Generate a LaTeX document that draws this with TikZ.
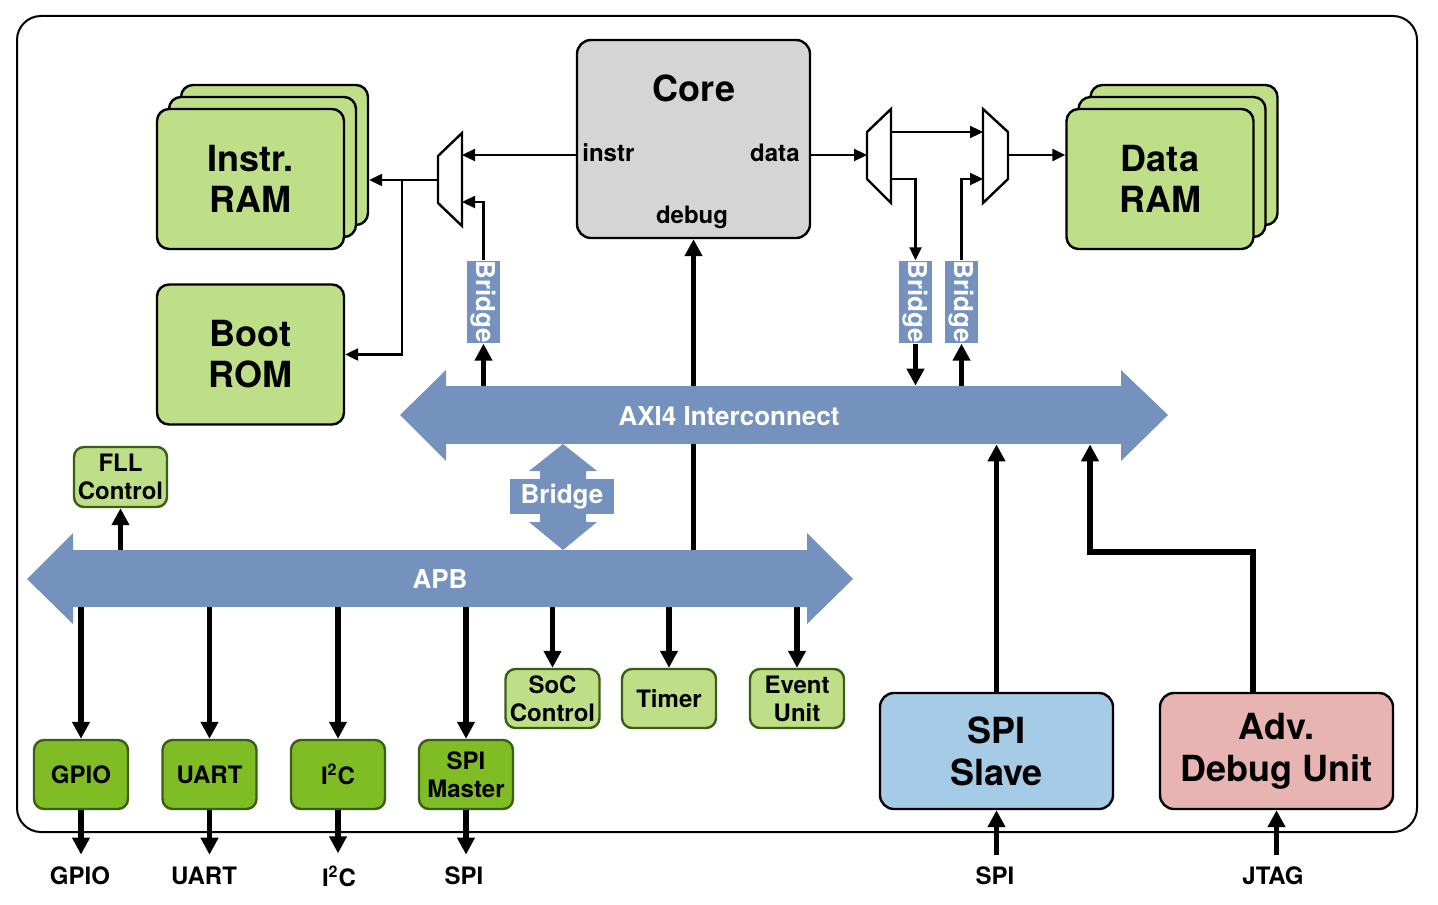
\documentclass[tikz,border=0pt]{standalone}
\usepackage{fontspec}
\setmainfont{TeX Gyre Heros}
\usetikzlibrary{arrows.meta}
\definecolor{ramgreen}{HTML}{BEDF87}
\definecolor{perigreen}{HTML}{80BC23}
\definecolor{darkgreen}{HTML}{3B5E15}
\definecolor{busblue}{HTML}{7591BE}
\definecolor{coregray}{HTML}{D5D5D5}
\definecolor{slaveblue}{HTML}{A6CBE7}
\definecolor{debugpink}{HTML}{E8B4B2}
\begin{document}
\begin{tikzpicture}[x=0.5pt, y=-0.5pt,
    ram/.style={draw=black, fill=ramgreen, rounded corners=6pt, line width=1.2pt,
      minimum width=93.5pt, minimum height=70pt, align=center,
      font=\fontsize{18}{20.5}\selectfont\bfseries},
    ipbox/.style={draw=darkgreen, fill=ramgreen, rounded corners=5pt, line width=1.2pt,
      minimum width=47pt, minimum height=29.5pt, inner sep=0pt, align=center,
      font=\fontsize{12}{14}\selectfont\bfseries},
    periph/.style={ipbox, fill=perigreen, minimum height=34.5pt},
    hostbox/.style={draw=black, rounded corners=7pt, line width=1.2pt,
      minimum width=116.5pt, minimum height=58pt, align=center,
      font=\fontsize{18}{21}\selectfont\bfseries},
    bus/.style={fill=busblue, inner sep=0pt},
    buslbl/.style={text=white, inner sep=0pt, font=\fontsize{13}{15}\selectfont\bfseries},
    bridgebox/.style={fill=busblue, text=white, inner sep=0pt, minimum width=40pt,
      minimum height=16.5pt, font=\fontsize{13}{15}\selectfont\bfseries},
    portlbl/.style={inner sep=0pt, font=\fontsize{12}{14}\selectfont\bfseries},
    extsig/.style={inner sep=6pt, font=\fontsize{12}{14}\selectfont\bfseries},
    link/.style={line width=1.15pt, -{Triangle[length=6.5pt,width=6pt]}},
    buslink/.style={line width=2.6pt, -{Triangle[length=8.5pt,width=8.5pt]}}]

\useasboundingbox (0,0) rectangle (1438,904);
\draw[line width=1pt, rounded corners=12pt] (17,16) rectangle (1417,832);

\node[ram] (iram3) at (274.5,155) {};
\node[ram] (iram2) at (262.5,167) {};
\node[ram] (iram) at (250.5,179) {Instr.\\RAM};
\node[ram] (brom) at (250.5,354.5) {Boot\\ROM};
\node[ram] (dram3) at (1184,155) {};
\node[ram] (dram2) at (1172,167) {};
\node[ram] (dram) at (1160,179) {Data\\RAM};

\node[draw, fill=coregray, rounded corners=7pt, line width=1.2pt,
      minimum width=116.5pt, minimum height=99pt] (core) at (693.5,139) {};
\node[font=\fontsize{18}{20}\selectfont\bfseries] (corename) at (694,88) {Core};
\node[portlbl, anchor=west] (cinstr) at (582,153) {instr};
\node[portlbl, anchor=east] (cdata) at (800,153) {data};
\node[portlbl] (cdebug) at (692,217) {debug};

\draw[line width=1.2pt, fill=white] (438,156) -- (462,133) -- (462,226) -- (438,203) -- cycle;
\coordinate (imuxt) at (462,155);
\coordinate (imuxb) at (462,202);
\coordinate (imuxo) at (438,180);
\coordinate (ibranch) at (402,180);

\draw[line width=1.2pt, fill=white] (867,132) -- (891,109) -- (891,203) -- (867,179) -- cycle;
\draw[line width=1.2pt, fill=white] (983,109) -- (1008,132) -- (1008,179) -- (983,203) -- cycle;
\coordinate (dmux1i) at (867,155);
\coordinate (dmux1t) at (891,132);
\coordinate (dmux1b) at (891,179);
\coordinate (dmux2t) at (983,132);
\coordinate (dmux2b) at (983,179);
\coordinate (dmux2o) at (1008,155);

\node[bus, minimum width=369pt, minimum height=28.5pt] (apb) at (440,578.5) {};
\fill[busblue] (73,533) -- (27,579) -- (73,624) -- cycle;
\fill[busblue] (807,533) -- (853,579) -- (807,624) -- cycle;
\node[buslbl] (apblbl) at (440,579) {APB};

\draw[buslink] (apb.north -| core) -- (core);

\node[bus, minimum width=339pt, minimum height=29pt] (axi) at (783.5,415) {};
\fill[busblue] (446,370) -- (400,415) -- (446,461) -- cycle;
\fill[busblue] (1121,370) -- (1168,415) -- (1121,461) -- cycle;
\node[buslbl] (axilbl) at (729,416) {AXI4 Interconnect};

\fill[busblue] (563,444) -- (597,471) -- (586,471) -- (586,522) -- (597,522) -- (563,550)
  -- (529,522) -- (540,522) -- (540,471) -- (529,471) -- cycle;
\node[bridgebox, minimum width=52pt, minimum height=17.5pt] (mbridge) at (562,496.5) {Bridge};

\node[bridgebox, rotate=-90] (lbridge) at (483.5,302) {Bridge};
\node[bridgebox, rotate=-90] (dbridge1) at (915.5,302) {Bridge};
\node[bridgebox, rotate=-90] (dbridge2) at (961.5,302) {Bridge};

\node[ipbox, minimum width=46.5pt, minimum height=30pt] (fll) at (120.5,477) {FLL\\Control};
\node[periph] (gpio) at (81,774.5) {GPIO};
\node[periph] (uart) at (209.5,774.5) {UART};
\node[periph] (itwoc) at (338,774.5) {I\textsuperscript{2}C};
\node[periph] (spim) at (466,774.5) {SPI\\Master};
\node[ipbox] (soc) at (552.5,698.5) {SoC\\Control};
\node[ipbox] (timer) at (669,698.5) {Timer};
\node[ipbox] (evu) at (797,698.5) {Event\\Unit};
\node[hostbox, fill=slaveblue] (spis) at (996.5,751) {SPI\\Slave};
\node[hostbox, fill=debugpink] (adbg) at (1276.5,751) {Adv.\\Debug Unit};

\node[extsig] (outgpio) at (80,876) {GPIO};
\node[extsig] (outuart) at (204,876) {UART};
\node[extsig] (outitwoc) at (339,876) {I\textsuperscript{2}C};
\node[extsig] (outspim) at (464,876) {SPI};
\node[extsig] (inspis) at (995,876) {SPI};
\node[extsig] (injtag) at (1273,876) {JTAG};

\draw[link] (core.west |- imuxt) -- (imuxt);
\draw[link] (lbridge) |- (imuxb);
\draw[link] (imuxo) -- (iram3.east |- imuxo);
\draw[link] (ibranch) |- (brom);
\draw[link] (core.east |- dmux1i) -- (dmux1i);
\draw[link] (dmux1t) -- (dmux2t);
\draw[link] (dmux1b) -| (dbridge1);
\draw[link] (dbridge2) |- (dmux2b);
\draw[link] (dmux2o) -- (dram.west |- dmux2o);

\draw[buslink] (axi.north -| lbridge) -- (lbridge);
\draw[buslink] (dbridge1) -- (axi.north -| dbridge1);
\draw[buslink] (axi.north -| dbridge2) -- (dbridge2);
\draw[buslink] (apb.north -| fll) -- (fll);
\draw[buslink] (spis) -- (axi.south -| spis);
\coordinate (dbgup) at (1253,552);
\coordinate (dbgin) at (1090,444);
\draw[buslink] (adbg.north -| dbgup) -- (dbgup) -| (axi.south -| dbgin);

\foreach \p in {gpio, uart, itwoc, spim, soc, timer, evu}
  \draw[buslink] (apb.south -| \p) -- (\p);
\draw[buslink] (gpio) -- (gpio |- outgpio.north);
\draw[buslink] (uart) -- (uart |- outuart.north);
\draw[buslink] (itwoc) -- (itwoc |- outitwoc.north);
\draw[buslink] (spim) -- (spim |- outspim.north);
\draw[buslink] (spis |- inspis.north) -- (spis);
\draw[buslink] (injtag.north -| adbg) -- (adbg);
\end{tikzpicture}
\end{document}
